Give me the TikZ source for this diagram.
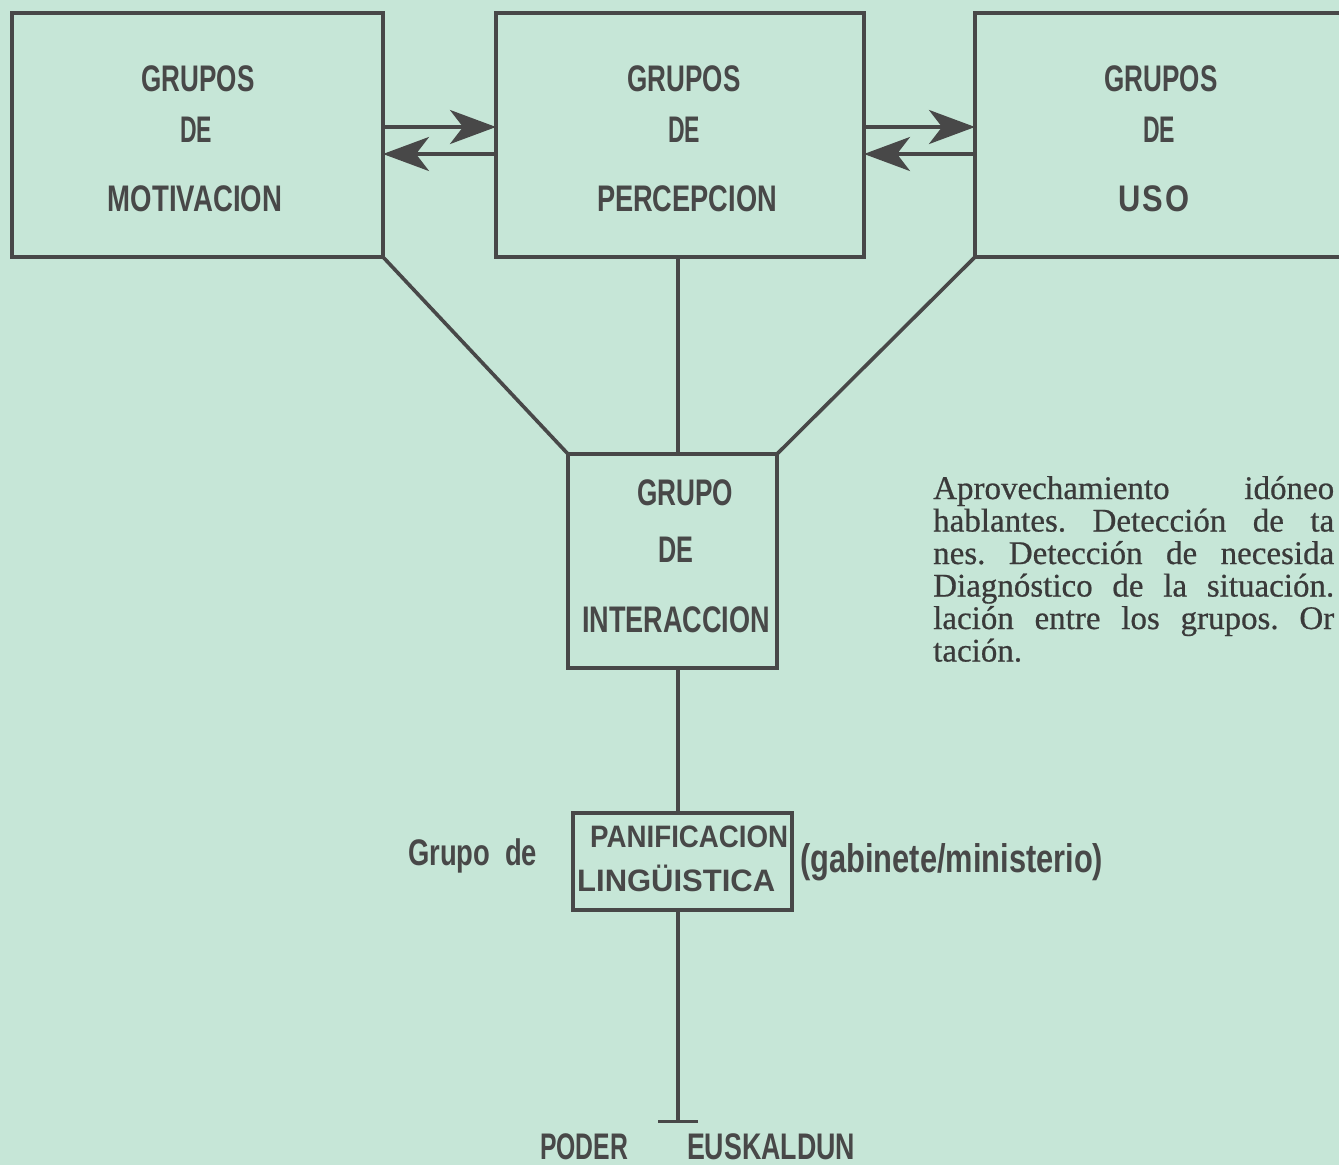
\documentclass[tikz,border=0pt]{standalone}
\usepackage{fontspec}
\usepackage{graphicx}
\usetikzlibrary{arrows.meta}
\newfontfamily\lblfont{Liberation Sans}
\newfontfamily\bodyfont{Liberation Serif}[FakeBold=0.6]
\definecolor{paper}{RGB}{198,230,215}
\definecolor{ink}{RGB}{72,72,72}
\frenchspacing
% squeeze a label to a given width, keeping its height
\newcommand\fitw[2]{\resizebox{#1}{\height}{#2}}
\tikzset{
  groupbox/.style={draw=ink, line width=4pt, rectangle, inner sep=0pt, outer sep=0pt},
  wire/.style={draw=ink, line width=3.6pt},
  arr/.style={wire, -{Stealth[length=46pt,width=34pt,inset=13pt]}},
  lbl/.style={text=ink, inner sep=0pt, font=\lblfont\bfseries\fontsize{37}{40}\selectfont},
  lblsmall/.style={text=ink, inner sep=0pt, font=\lblfont\bfseries\fontsize{31}{34}\selectfont},
  body/.style={text=ink!80!black, inner sep=0pt, anchor=base west, font=\bodyfont\fontsize{33}{36}\selectfont},
}
\begin{document}
\begin{tikzpicture}[x=1pt,y=-1pt]
\useasboundingbox (0,0) rectangle (1339,1165);
\fill[paper] (0,0) rectangle (1339,1165);
\clip (0,0) rectangle (1339,1165);

% the three upper groups
\node[groupbox, minimum width=371pt, minimum height=244pt] (mot) at (197.5,135) {};
\node[groupbox, minimum width=368pt, minimum height=244pt] (per) at (680,135) {};
\node[groupbox, minimum width=405pt, minimum height=244pt] (uso) at (1177.5,135) {};

% interaction and planning groups
\node[groupbox, minimum width=209pt, minimum height=214pt] (int) at (672.5,561) {};
\node[groupbox, minimum width=219pt, minimum height=97pt] (plan) at (682.5,861.5) {};

% labels inside the boxes
\node[lbl] (mot1) at (198,78.5) {\fitw{113pt}{GRUPOS}};
\node[lbl] (mot2) at (196,130) {\fitw{32pt}{DE}};
\node[lbl] (mot3) at (195,199) {\fitw{174pt}{MOTIVACION}};

\node[lbl] (per1) at (684,78.5) {\fitw{113pt}{GRUPOS}};
\node[lbl] (per2) at (684,130) {\fitw{32pt}{DE}};
\node[lbl] (per3) at (687,199) {\fitw{180pt}{PERCEPCION}};

\node[lbl] (uso1) at (1161,78.5) {\fitw{113pt}{GRUPOS}};
\node[lbl] (uso2) at (1159,130) {\fitw{32pt}{DE}};
\node[lbl] (uso3) at (1154,199) {\fitw{72pt}{U\kern3pt S\kern3pt O}};

\node[lbl] (int1) at (685,493) {\fitw{96pt}{GRUPO}};
\node[lbl] (int2) at (675.5,549.5) {\fitw{35pt}{DE}};
\node[lbl] (int3) at (676,620) {\fitw{188pt}{INTERACCION}};

\node[lblsmall, anchor=base west] (plan1) at (590,847) {\fitw{198pt}{PANIFICACION}};
\node[lblsmall, anchor=base west] (plan2) at (577,891) {\fitw{198pt}{LINGÜISTICA}};

\node[lbl, anchor=base west] (grupode) at (408,865) {\fitw{129pt}{Grupo\kern20pt de}};
\node[lbl, anchor=base west, font=\lblfont\bfseries\fontsize{40}{42}\selectfont] (gab) at (800,872) {\fitw{303pt}{(gabinete/ministerio)}};

\node[lbl] (poder) at (584,1147) {\fitw{88pt}{PODER}};
\node[lbl] (eusk) at (771,1147) {\fitw{168pt}{EUSKALDUN}};

% two-way arrows between neighbouring groups
\coordinate (rowa) at (0,127);
\coordinate (rowb) at (0,154);
\draw[arr] (mot.east |- rowa) -- (per.west |- rowa);
\draw[arr] (per.west |- rowb) -- (mot.east |- rowb);
\draw[arr] (per.east |- rowa) -- (uso.west |- rowa);
\draw[arr] (uso.west |- rowb) -- (per.east |- rowb);

% links down to the interaction group
\coordinate (spine) at (678,0);
\draw[wire] (mot.south east) -- (int.north west);
\draw[wire] (uso.south west) -- (int.north east);
\draw[wire] (spine |- per.south) -- (spine |- int.north);
\draw[wire] (spine |- int.south) -- (spine |- plan.north);

% stem to the base
\coordinate (foot) at (0,1123);
\draw[wire, -{Bar[width=40pt,line width=3pt]}] (spine |- plan.south) -- (spine |- foot);

% explanatory paragraph, justified lines
\node[body] (t1) at (933,499) {\makebox[401pt][s]{Aprovechamiento idóneo}};
\node[body] (t2) at (933,531.5) {\makebox[401pt][s]{hablantes. Detección de ta}};
\node[body] (t3) at (933,564) {\makebox[401pt][s]{nes. Detección de necesida}};
\node[body] (t4) at (933,596.5) {\makebox[401pt][s]{Diagnóstico de la situación.}};
\node[body] (t5) at (933,629) {\makebox[401pt][s]{lación entre los grupos. Or}};
\node[body] (t6) at (933,661.5) {tación.};
\end{tikzpicture}
\end{document}
